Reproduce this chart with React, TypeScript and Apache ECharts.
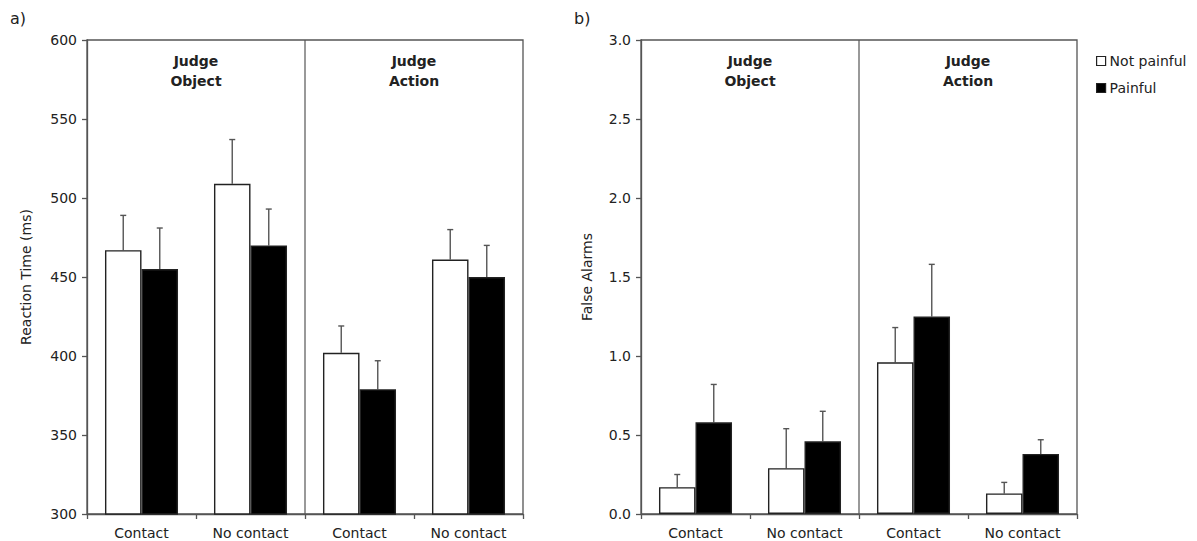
import React, { useEffect, useRef } from "react";
import * as echarts from "echarts";

// Conditions along the x axis (two per task panel)
const categories = ["Contact", "No contact", "Contact", "No contact"];
const taskLabels = ["Judge\nObject", "Judge\nAction"];
const seriesNames = ["Not painful", "Painful"];

// a) Reaction time (ms): means and top of the error bar
const rtNotPainful = [467, 509, 402, 461];
const rtNotPainfulErr = [489, 537, 419, 480];
const rtPainful = [455, 470, 379, 450];
const rtPainfulErr = [481, 493, 397, 470];

// b) False alarms: means and top of the error bar
const faNotPainful = [0.17, 0.29, 0.96, 0.13];
const faNotPainfulErr = [0.25, 0.54, 1.18, 0.2];
const faPainful = [0.58, 0.46, 1.25, 0.38];
const faPainfulErr = [0.82, 0.65, 1.58, 0.47];

const FONT = "DejaVu Sans";
const AXIS_COLOR = "#555";
const TEXT_COLOR = "#222";
const CAT_GAP = 0.33;

function errorSeries(xi: number, yi: number, means: number[], tops: number[], side: number) {
  return {
    type: "custom",
    xAxisIndex: xi,
    yAxisIndex: yi,
    silent: true,
    z: 1,
    data: means.map((m, i) => [i, m, tops[i]]),
    renderItem: (params: any, api: any) => {
      const idx = api.value(0);
      const base = api.coord([idx, api.value(1)]);
      const top = api.coord([idx, api.value(2)]);
      const band = api.size([1, 0])[0];
      const x = base[0] + side * (band * (1 - CAT_GAP)) / 4;
      const style = { stroke: "#555", lineWidth: 1.4 };
      return {
        type: "group",
        children: [
          { type: "line", shape: { x1: x, y1: base[1], x2: x, y2: top[1] }, style },
          { type: "line", shape: { x1: x - 3, y1: top[1], x2: x + 3, y2: top[1] }, style },
        ],
      };
    },
  };
}

function dividerSeries(xi: number, yi: number, yMin: number, yMax: number) {
  return {
    type: "custom",
    xAxisIndex: xi,
    yAxisIndex: yi,
    silent: true,
    data: [[2, yMin, yMax]],
    renderItem: (params: any, api: any) => {
      const band = api.size([1, 0])[0];
      const a = api.coord([api.value(0), api.value(1)]);
      const b = api.coord([api.value(0), api.value(2)]);
      const x = a[0] - band / 2;
      return {
        type: "line",
        shape: { x1: x, y1: a[1], x2: x, y2: b[1] },
        style: { stroke: AXIS_COLOR, lineWidth: 1.2 },
      };
    },
  };
}

function taskLabelSeries(xi: number, yi: number, yTop: number) {
  return {
    type: "custom",
    xAxisIndex: xi,
    yAxisIndex: yi,
    silent: true,
    data: [[0, yTop], [2, yTop]],
    renderItem: (params: any, api: any) => {
      const band = api.size([1, 0])[0];
      const p = api.coord([api.value(0), api.value(1)]);
      return {
        type: "text",
        x: p[0] + band / 2,
        y: p[1] + 11,
        style: {
          text: taskLabels[params.dataIndex],
          fontFamily: FONT,
          fontSize: 14,
          fontWeight: "bold",
          fill: TEXT_COLOR,
          align: "center",
          verticalAlign: "top",
          lineHeight: 20,
        },
      };
    },
  };
}

function barSeries(name: string, xi: number, yi: number, values: number[], painful: boolean) {
  return {
    name,
    type: "bar",
    xAxisIndex: xi,
    yAxisIndex: yi,
    data: values,
    barGap: "0%",
    barCategoryGap: CAT_GAP * 100 + "%",
    itemStyle: {
      color: painful ? "#000" : "#fff",
      borderColor: "#222",
      borderWidth: 1.4,
    },
  };
}

function xAxis(gridIndex: number) {
  return {
    type: "category",
    gridIndex,
    data: categories,
    axisLine: { lineStyle: { color: AXIS_COLOR, width: 1.3 } },
    axisTick: { show: true, length: 5, lineStyle: { color: AXIS_COLOR, width: 1.3 } },
    axisLabel: { fontFamily: FONT, fontSize: 14, color: TEXT_COLOR, margin: 12 },
  };
}

function yAxis(gridIndex: number, name: string, min: number, max: number, interval: number, digits: number, nameGap: number) {
  return {
    type: "value",
    gridIndex,
    min,
    max,
    interval,
    name,
    nameLocation: "middle",
    nameGap,
    nameTextStyle: { fontFamily: FONT, fontSize: 14, color: TEXT_COLOR },
    splitLine: { show: false },
    axisLine: { show: true, lineStyle: { color: AXIS_COLOR, width: 1.3 } },
    axisTick: { show: true, length: 5, lineStyle: { color: AXIS_COLOR, width: 1.3 } },
    axisLabel: {
      fontFamily: FONT,
      fontSize: 14,
      color: TEXT_COLOR,
      margin: 10,
      formatter: (v: number) => v.toFixed(digits),
    },
  };
}

export default function App() {
  const ref = useRef<HTMLDivElement>(null);

  useEffect(() => {
    if (!ref.current) return;
    const chart = echarts.init(ref.current, undefined, { renderer: "svg" });
    chart.setOption({
      animation: false,
      backgroundColor: "#fff",
      textStyle: { fontFamily: FONT },
      grid: [
        { left: 87, top: 40, width: 436, height: 474, show: true, borderColor: AXIS_COLOR, borderWidth: 1.3, backgroundColor: "transparent" },
        { left: 641, top: 40, width: 436, height: 474, show: true, borderColor: AXIS_COLOR, borderWidth: 1.3, backgroundColor: "transparent" },
      ],
      xAxis: [xAxis(0), xAxis(1)],
      yAxis: [
        yAxis(0, "Reaction Time (ms)", 300, 600, 50, 0, 54),
        yAxis(1, "False Alarms", 0, 3, 0.5, 1, 47),
      ],
      legend: {
        orient: "vertical",
        left: 1096,
        top: 54,
        padding: 0,
        icon: "rect",
        itemWidth: 9,
        itemHeight: 9,
        itemGap: 13,
        data: seriesNames.map((n, i) => ({
          name: n,
          itemStyle: { color: i === 1 ? "#000" : "#fff", borderColor: "#222", borderWidth: 1.2 },
        })),
        textStyle: { fontFamily: FONT, fontSize: 14, color: TEXT_COLOR, padding: [0, 0, 0, -1] },
      },
      graphic: [
        { type: "text", left: 10, top: 10, style: { text: "a)", fontFamily: FONT, fontSize: 16, fill: TEXT_COLOR } },
        { type: "text", left: 574, top: 10, style: { text: "b)", fontFamily: FONT, fontSize: 16, fill: TEXT_COLOR } },
      ],
      series: [
        barSeries(seriesNames[0], 0, 0, rtNotPainful, false),
        barSeries(seriesNames[1], 0, 0, rtPainful, true),
        barSeries(seriesNames[0], 1, 1, faNotPainful, false),
        barSeries(seriesNames[1], 1, 1, faPainful, true),
        errorSeries(0, 0, rtNotPainful, rtNotPainfulErr, -1),
        errorSeries(0, 0, rtPainful, rtPainfulErr, 1),
        errorSeries(1, 1, faNotPainful, faNotPainfulErr, -1),
        errorSeries(1, 1, faPainful, faPainfulErr, 1),
        dividerSeries(0, 0, 300, 600),
        dividerSeries(1, 1, 0, 3),
        taskLabelSeries(0, 0, 600),
        taskLabelSeries(1, 1, 3),
      ],
    });
    return () => chart.dispose();
  }, []);

  return (
    <div
      ref={ref}
      style={{ position: "fixed", left: 0, top: 0, width: 1197, height: 541, background: "#fff" }}
    />
  );
}
